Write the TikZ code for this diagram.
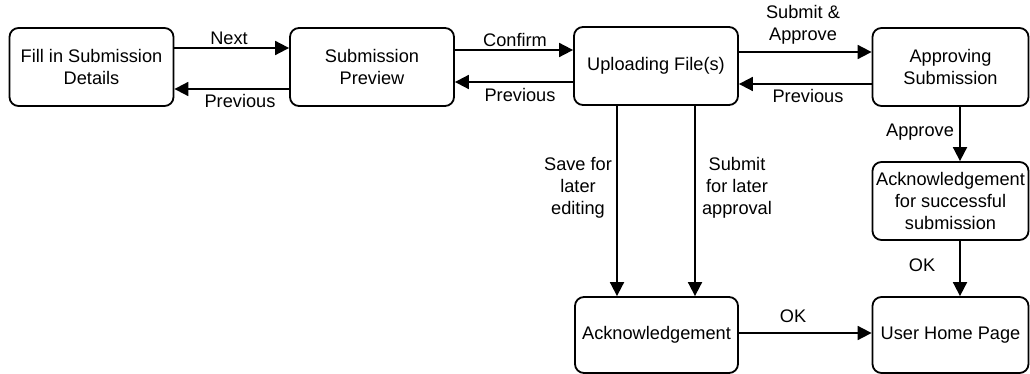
\documentclass[tikz,border=0pt]{standalone}
\usepackage{fontspec}
\setmainfont{Liberation Sans}
\usetikzlibrary{arrows.meta,calc}
\begin{document}
\begin{tikzpicture}[x=1pt,y=-1pt,
  box/.style={draw=black,line width=1.8pt,rounded corners=9pt,align=center,
    inner sep=1pt,font=\fontsize{18.2}{22}\selectfont},
  arr/.style={line width=1.8pt,-{Triangle[length=14pt,width=14pt]}},
  lbl/.style={align=center,inner sep=0pt,font=\fontsize{18.2}{22}\selectfont}]
\useasboundingbox (0,0) rectangle (1030,374);
\node[box,minimum width=164pt,minimum height=78pt] (fill) at (91.5,67) {Fill in Submission\\Details};
\node[box,minimum width=164pt,minimum height=78pt] (prev) at (372,67) {Submission\\Preview};
\node[box,minimum width=164pt,minimum height=78pt] (up) at (656,66) {Uploading File(s)};
\node[box,minimum width=156pt,minimum height=78pt] (appr) at (950.5,67) {Approving\\Submission};
\node[box,minimum width=156pt,minimum height=78pt] (ackok) at (950.5,201) {Acknowledgement\\for successful\\submission};
\node[box,minimum width=156pt,minimum height=76pt] (home) at (950.5,335) {User Home Page};
\node[box,minimum width=163pt,minimum height=76pt] (ack) at (656.5,335) {Acknowledgement};

\draw[arr] (fill.east |- 0,48) -- (prev.west |- 0,48);
\draw[arr] (prev.west |- 0,89) -- (fill.east |- 0,89);
\draw[arr] (prev.east |- 0,50) -- (up.west |- 0,50);
\draw[arr] (up.west |- 0,82) -- (prev.east |- 0,82);
\draw[arr] (up.east |- 0,52) -- (appr.west |- 0,52);
\draw[arr] (appr.west |- 0,84) -- (up.east |- 0,84);
\draw[arr] (617,0 |- up.south) -- (617,0 |- ack.north);
\draw[arr] (695,0 |- up.south) -- (695,0 |- ack.north);
\draw[arr] (960,0 |- appr.south) -- (960,0 |- ackok.north);
\draw[arr] (960,0 |- ackok.south) -- (960,0 |- home.north);
\draw[arr] (ack.east |- 0,333) -- (home.west |- 0,333);

\node[lbl] (l1) at (229,38) {Next};
\node[lbl] (l2) at (240,101) {Previous};
\node[lbl] (l3) at (515,40) {Confirm};
\node[lbl] (l4) at (520,95) {Previous};
\node[lbl] (l5) at (803,25) {Submit \&\\Approve};
\node[lbl] (l6) at (808,96) {Previous};
\node[lbl] (l7) at (578,188) {Save for\\later\\editing};
\node[lbl] (l8) at (737,188) {Submit\\for later\\approval};
\node[lbl] (l9) at (920,132) {Approve};
\node[lbl] (l10) at (922,265) {OK};
\node[lbl] (l11) at (793,316) {OK};
\end{tikzpicture}
\end{document}
